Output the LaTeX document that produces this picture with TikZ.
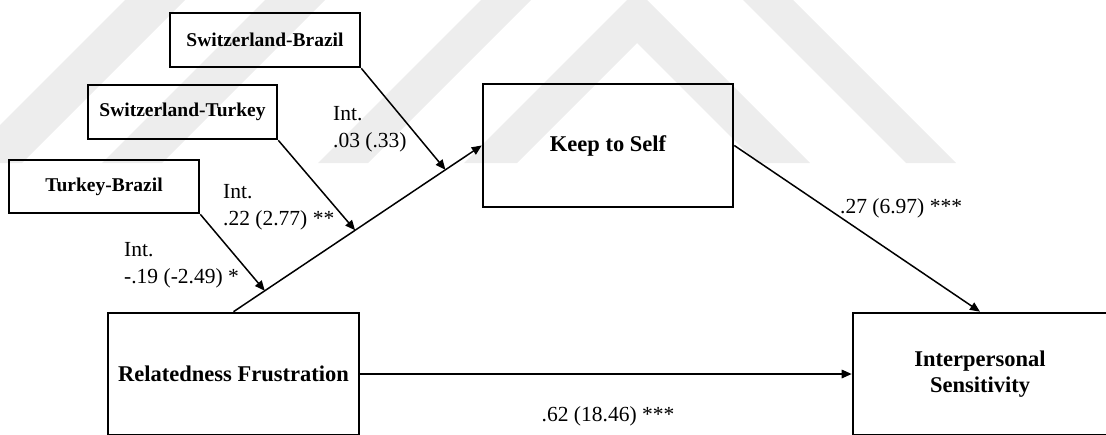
\documentclass[tikz,border=0pt]{standalone}
\usepackage{fontspec}
\setmainfont{Liberation Serif}
\usetikzlibrary{arrows.meta,calc}

\begin{document}
\begin{tikzpicture}[x=1pt,y=-1pt,
  box/.style={draw, line width=2.6pt, inner sep=0pt, align=center,
    font=\fontsize{22.5}{26}\selectfont\bfseries},
  modbox/.style={box, font=\fontsize{19.5}{23}\selectfont\bfseries},
  link/.style={line width=1.5pt, -{Triangle[length=10pt,width=8.5pt]}},
  lbl/.style={inner sep=0pt, align=left, font=\fontsize{21.5}{27}\selectfont},
  wm/.style={fill=black!7, draw=none}]
\clip (0,0) rectangle (1106,434);

% faint background emblem
\begin{scope}
  \clip (-10,0) rectangle (1120,163);
  \fill[wm] (318,163) -- (637,-156) -- (956,163) -- (906,163) -- (637,-106) -- (368,163) -- cycle;
  \fill[wm] (464,163) -- (637,-10) -- (810,163) -- (757,163) -- (637,43) -- (517,163) -- cycle;
  \fill[wm] (125,0) -- (185,0) -- (22,163) -- (-38,163) -- cycle;
  \fill[wm] (265,0) -- (325,0) -- (162,163) -- (102,163) -- cycle;
\end{scope}

% moderators
\node[modbox, minimum width=190pt, minimum height=54pt] (sb) at (265,40) {Switzerland-Brazil};
\node[modbox, minimum width=189pt, minimum height=54pt] (st) at (182.5,112) {Switzerland-Turkey};
\node[modbox, minimum width=190pt, minimum height=53pt] (tb) at (104,186.5) {Turkey-Brazil};

% main variables
\node[box, minimum width=250pt, minimum height=123pt] (ks) at (608,145.5) {Keep to Self};
\node[box, minimum width=251pt, minimum height=122pt] (rf) at (233.5,374) {Relatedness Frustration};
\node[box, minimum width=254pt, minimum height=122pt] (is) at (980,374) {Interpersonal\\Sensitivity};

% paths
\draw[link] (rf.north) -- (ks.west);
\draw[link] (ks.east) -- (is.north);
\draw[link] (rf.east) -- (is.west);

% interaction points on the a-path
\coordinate (j1) at ($(rf.north)!0.126!(ks.west)$);
\coordinate (j2) at ($(rf.north)!0.49!(ks.west)$);
\coordinate (j3) at ($(rf.north)!0.854!(ks.west)$);
\draw[link] (tb.south east) -- (j1);
\draw[link] (st.south east) -- (j2);
\draw[link] (sb.south east) -- (j3);

% coefficients
\node[lbl, anchor=base west] (l3) at (333,147) {Int.\\.03 (.33)};
\node[lbl, anchor=base west] (l2) at (223,225) {Int.\\.22 (2.77) **};
\node[lbl, anchor=base west] (l1) at (124,283) {Int.\\-.19 (-2.49) *};
\node[lbl, anchor=base west] (lb) at (840,213) {.27 (6.97) ***};
\node[lbl, anchor=base] (lc) at (608,421) {.62 (18.46) ***};
\end{tikzpicture}
\end{document}
